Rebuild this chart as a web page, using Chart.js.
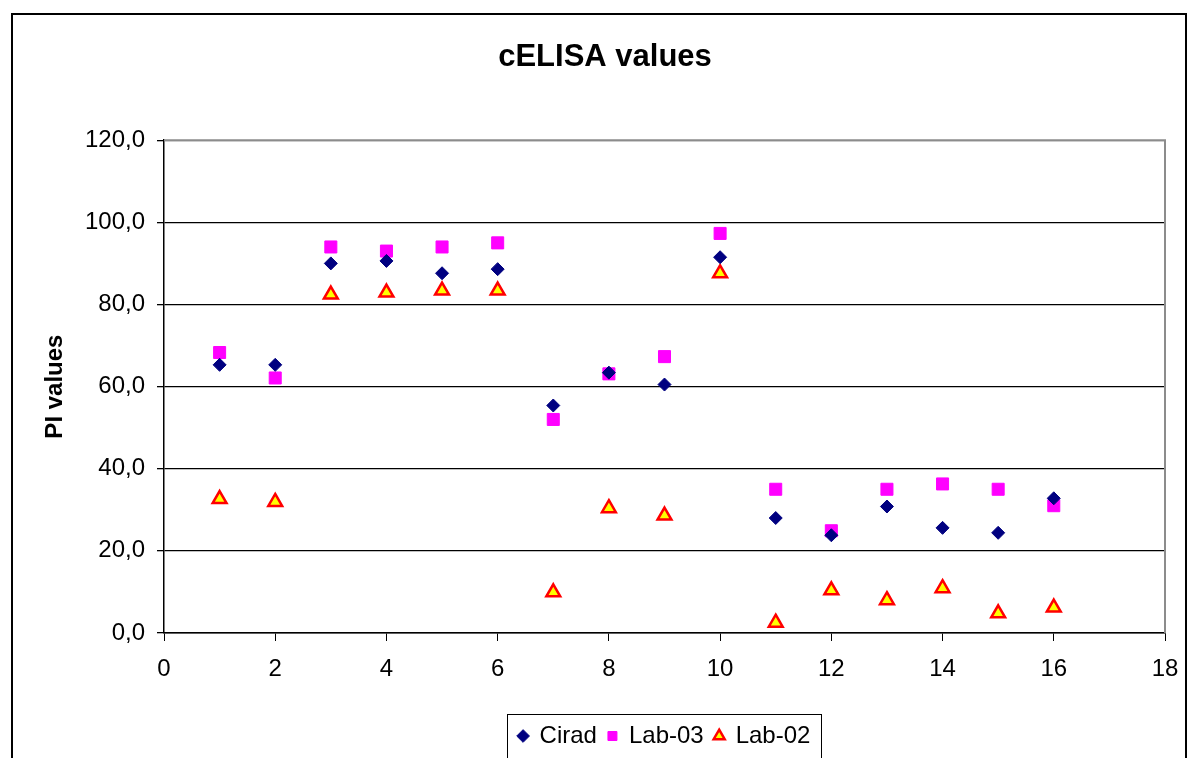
<!DOCTYPE html>
<html>
<head>
<meta charset="utf-8">
<script src="https://cdn.jsdelivr.net/npm/chart.js@4/dist/chart.umd.min.js"></script>
<style>
  html, body { margin: 0; padding: 0; background: #fff; }
  #wrap { width: 1194px; height: 758px; }
</style>
</head>
<body>
<div id="wrap"><canvas id="elisaChart" width="1194" height="758"></canvas></div>
<script>
// sample number on the x axis
const samples = [1, 2, 3, 4, 5, 6, 7, 8, 9, 10, 11, 12, 13, 14, 15, 16];
// PI values
const cirad = [65.3, 65.3, 90.0, 90.6, 87.6, 88.6, 55.4, 63.4, 60.5, 91.5, 28.0, 23.8, 30.8, 25.6, 24.4, 32.8];
const lab03 = [68.3, 62.1, 94.0, 93.0, 94.0, 95.0, 52.0, 63.1, 67.3, 97.3, 35.0, 24.9, 35.0, 36.3, 35.0, 31.0];
const lab02 = [32.6, 31.9, 82.4, 82.9, 83.4, 83.4, 9.9, 30.4, 28.6, 87.6, 2.5, 10.4, 8.0, 10.9, 4.8, 6.2];

const seriesNames = ['Cirad', 'Lab-03', 'Lab-02'];

const font = "Arial, 'Liberation Sans', sans-serif";

function toPoints(values) {
    return samples.map((s, i) => ({ x: s, y: values[i] }));
}

// outer frame, gray plot border and legend box
const framePlugin = {
    id: 'frame',
    afterDraw(chart) {
        const ctx = chart.ctx;
        const area = chart.chartArea;
        ctx.save();
        ctx.strokeStyle = '#000';
        ctx.lineWidth = 2;
        ctx.strokeRect(12, 14, 1174, 780);

        ctx.strokeStyle = '#8c8c8c';
        ctx.lineWidth = 2;
        ctx.beginPath();
        ctx.moveTo(area.left, area.top);
        ctx.lineTo(area.right, area.top);
        ctx.lineTo(area.right, area.bottom);
        ctx.stroke();

        const boxes = chart.legend.legendHitBoxes;
        if (boxes && boxes.length) {
            let minX = Infinity, maxX = -Infinity;
            boxes.forEach(b => {
                minX = Math.min(minX, b.left);
                maxX = Math.max(maxX, b.left + b.width);
            });
            ctx.strokeStyle = '#000';
            ctx.lineWidth = 1;
            ctx.strokeRect(Math.round(minX - 12) + 0.5, 714.5, Math.round(maxX - minX + 22), 60);
        }
        ctx.restore();
    }
};

const elisaChart = document.getElementById('elisaChart');

new Chart(elisaChart, {
    type: 'scatter',
    data: {
        datasets: [{
            label: seriesNames[0],
            data: toPoints(cirad),
            pointStyle: 'rectRot',
            pointRadius: 6.5,
            backgroundColor: '#000080',
            borderColor: '#000080',
            borderWidth: 1
        }, {
            label: seriesNames[1],
            data: toPoints(lab03),
            pointStyle: 'rect',
            pointRadius: 8.5,
            backgroundColor: '#ff00ff',
            borderColor: '#ff00ff',
            borderWidth: 1
        }, {
            label: seriesNames[2],
            data: toPoints(lab02),
            pointStyle: 'triangle',
            pointRadius: 8,
            backgroundColor: '#ffff00',
            borderColor: '#ff0000',
            borderWidth: 2.5
        }]
    },
    options: {
        responsive: false,
        animation: false,
        layout: { padding: { left: 45, right: 29, top: 0, bottom: 0 } },
        plugins: {
            title: {
                display: true,
                text: 'cELISA values',
                color: '#000',
                font: { family: font, size: 31, weight: 'bold' },
                padding: { top: 39, bottom: 64 }
            },
            legend: {
                position: 'bottom',
                fullSize: false,
                labels: {
                    usePointStyle: true,
                    boxHeight: 9,
                    boxWidth: 9,
                    color: '#000',
                    padding: 11,
                    font: { family: font, size: 24 }
                }
            },
            tooltip: { enabled: false }
        },
        scales: {
            x: {
                type: 'linear',
                min: 0,
                max: 18,
                afterFit(scale) { scale.height = 80; },
                ticks: {
                    stepSize: 2,
                    color: '#000',
                    padding: 14,
                    maxRotation: 0,
                    font: { family: font, size: 24 }
                },
                grid: {
                    drawOnChartArea: false,
                    drawTicks: true,
                    tickLength: 8,
                    color: '#000'
                },
                border: { color: '#000', width: 1.5 }
            },
            y: {
                min: 0,
                max: 120,
                afterFit(scale) { scale.width = 119; },
                title: {
                    display: true,
                    text: 'PI values',
                    color: '#000',
                    font: { family: font, size: 24, weight: 'bold' },
                    padding: { top: -4.4, bottom: 0 }
                },
                ticks: {
                    stepSize: 20,
                    color: '#000',
                    padding: 12,
                    font: { family: font, size: 24 },
                    callback: v => v.toFixed(1).replace('.', ',')
                },
                grid: {
                    tickLength: 7,
                    tickColor: '#000',
                    color: ctx => (ctx.tick && ctx.tick.value === 120) ? '#8c8c8c' : '#000',
                    lineWidth: 1.3
                },
                border: { color: '#000', width: 1.5 }
            }
        }
    },
    plugins: [framePlugin]
});
</script>
</body>
</html>
